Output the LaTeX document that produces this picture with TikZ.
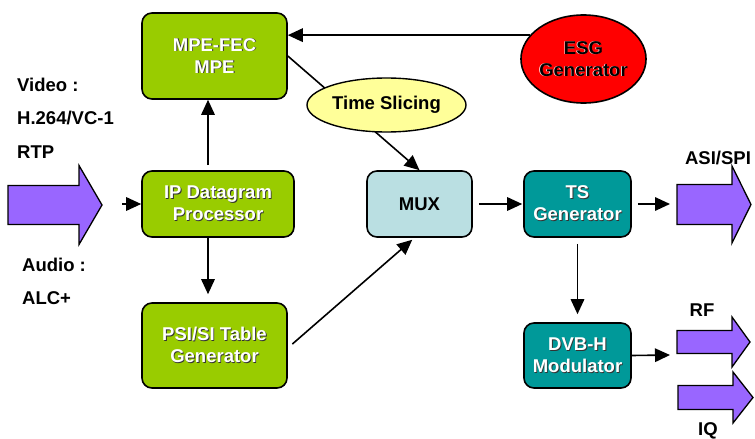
\documentclass[tikz,border=0pt]{standalone}
\usepackage{fontspec}
\setmainfont{Liberation Sans}
\usetikzlibrary{arrows.meta,shapes.geometric}

\definecolor{boxgreen}{HTML}{99CC00}
\definecolor{muxblue}{HTML}{BADFE2}
\definecolor{tsteal}{HTML}{009999}
\definecolor{slicey}{HTML}{FFFF99}
\definecolor{portpurple}{HTML}{9966FF}

% white letters with a dark drop shadow
\newcommand{\whitetxt}[1]{\leavevmode\rlap{\kern0.9pt\raisebox{-0.9pt}{\textcolor{black!80}{#1}}}\textcolor{white}{#1}}
% black letters with a light edge
\newcommand{\darktxt}[1]{\leavevmode\rlap{\kern-0.7pt\raisebox{0.7pt}{\textcolor{white}{#1}}}\textcolor{black}{#1}}
% block arrow: left x, tip x, head base x, centre y, body half, head half
\newcommand{\portarrow}[6]{%
  \filldraw[port] (#1,#4-#5) -- (#3,#4-#5) -- (#3,#4-#6) -- (#2,#4)
    -- (#3,#4+#6) -- (#3,#4+#5) -- (#1,#4+#5) -- cycle;}

\tikzset{
  block/.style={draw, line width=1.6pt, rounded corners=10pt, align=center,
    inner sep=0pt},
  greenbox/.style={block, fill=boxgreen},
  tealbox/.style={block, fill=tsteal},
  port/.style={fill=portpurple, draw, line width=1.3pt},
  tag/.style={anchor=west, inner sep=0pt},
  flow/.style={-{Triangle[length=15pt,width=13.5pt]}, line width=1.6pt}
}

\begin{document}
\begin{tikzpicture}[x=1pt, y=-1pt, font=\fontsize{18.5}{22}\selectfont\bfseries]
\useasboundingbox (0,0) rectangle (755,439);

% processing blocks
\node[greenbox, minimum width=145pt, minimum height=86pt] (mpe) at (214.5,56)
  {\whitetxt{MPE-FEC}\\\whitetxt{MPE}};
\node[greenbox, minimum width=152pt, minimum height=66pt] (ip) at (218,204)
  {\whitetxt{IP Datagram}\\\whitetxt{Processor}};
\node[greenbox, minimum width=145pt, minimum height=85pt] (psi) at (214.5,345.5)
  {\whitetxt{PSI/SI Table}\\\whitetxt{Generator}};
\node[block, fill=muxblue, minimum width=105pt, minimum height=66pt] (mux) at (419.5,204) {MUX};
\node[tealbox, minimum width=107pt, minimum height=66pt] (ts) at (577.5,204)
  {\whitetxt{TS}\\\whitetxt{Generator}};
\node[tealbox, minimum width=107pt, minimum height=65pt] (dvbh) at (577.5,355.5)
  {\whitetxt{DVB-H}\\\whitetxt{Modulator}};
\node[ellipse, draw, line width=1.6pt, fill=red, minimum width=113pt, minimum height=88pt,
  inner sep=0pt, align=center] (esg) at (583.5,59)
  {\darktxt{ESG}\\\darktxt{Generator}};

% ports
\portarrow{8}{102}{79}{205}{19.5}{39.5}
\portarrow{677}{751}{732}{204.5}{20}{38.5}
\portarrow{677}{750}{732}{342}{11.5}{25}
\portarrow{678}{753}{733}{397.5}{12}{25.5}
\coordinate (videoin) at (122,204);
\coordinate (asiout) at (670,204);
\coordinate (rfout) at (670,355);

% input and output labels
\node[tag] (video) at (17,85) {Video :};
\node[tag] (codec) at (17,118) {H.264/VC-1};
\node[tag] (rtp) at (17,152) {RTP};
\node[tag] (audio) at (22,265) {Audio :};
\node[tag] (alc) at (22,298) {ALC+};
\node (asi) at (718,158) {ASI/SPI};
\node (rf) at (702,310) {RF};
\node (iq) at (708,431) {IQ};

% connections
\draw[flow] (mpe.east) -- (mux.north);
\node[ellipse, draw, line width=1.4pt, fill=slicey, minimum width=159pt, minimum height=54pt,
  inner sep=0pt] (slicing) at (386.5,105) {Time Slicing};
\draw[flow] (esg.156) -- (esg.156 -| mpe.east);
\draw[flow, shorten <=5pt] ([xshift=-10pt]ip.north) -- ([xshift=-10pt]ip.north |- mpe.south);
\draw[flow, shorten >=8pt] ([xshift=-10pt]ip.south) -- ([xshift=-10pt]ip.south |- psi.north);
\draw[flow, shorten <=6pt, shorten >=3pt] ([yshift=-2.5pt]psi.east) -- ([xshift=-5pt]mux.south);
\draw[flow] (videoin) -- (ip.west);
\draw[flow, shorten <=6pt, shorten >=1pt] (mux.east) -- (ts.west);
\draw[flow, shorten <=6pt] (ts.east) -- (asiout);
\draw[flow, shorten <=6pt, shorten >=8pt] (ts.south) -- (dvbh.north);
\draw[flow] (dvbh.east) -- (rfout);
\end{tikzpicture}
\end{document}
